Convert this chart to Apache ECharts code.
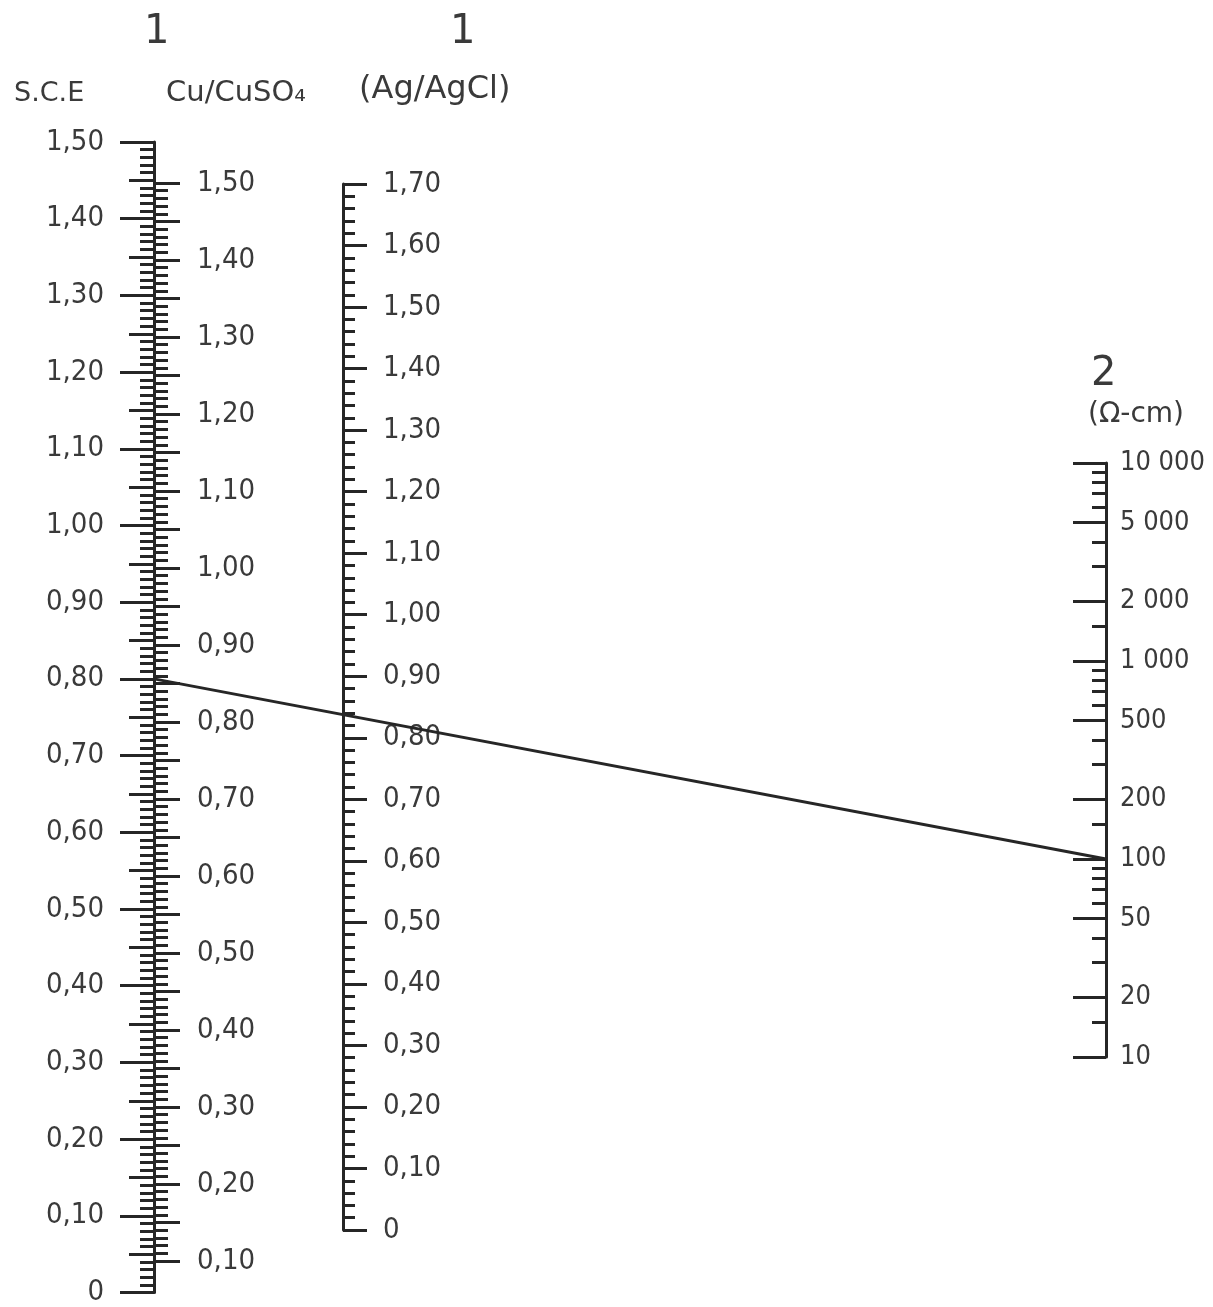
<!DOCTYPE html>
<html>
<head>
<meta charset="UTF-8">
<title>Nomogram</title>
<style>
  html, body { margin: 0; padding: 0; background: #fff; }
  #chart { width: 1213px; height: 1307px; }
</style>
</head>
<body>
<div id="chart"></div>
<script src="https://cdn.jsdelivr.net/npm/echarts@6/dist/echarts.min.js"></script>
<script>
// scales (potential, V)
var sceRange = [0, 1.5];
var cuRange = [0.1, 1.5];
var agRange = [0, 1.7];

// resistivity scale (ohm-cm), log
var resRange = [10, 10000];
var resMajor = [10, 20, 50, 100, 200, 500, 1000, 2000, 5000, 10000];
var resLabels = ['10', '20', '50', '100', '200', '500', '1 000', '2 000', '5 000', '10 000'];
var resMinor = [15, 30, 40, 60, 70, 80, 90,
                150, 300, 400, 600, 700, 800, 900,
                1500, 3000, 4000, 6000, 7000, 8000, 9000];

// example reading drawn across the nomogram
var readingSce = 0.80;
var readingRes = 100;

var ink = '#262626';
var textCol = '#3a3a3a';
var font = 'DejaVu Sans Condensed';
var headFont = 'DejaVu Sans';

function comma(v) {
  return v === 0 ? '0' : v.toFixed(2).replace('.', ',');
}

function head(text, left, top, size) {
  return {
    text: text, left: left, top: top,
    textStyle: { fontSize: size, fontWeight: 'normal', color: textCol, fontFamily: headFont }
  };
}

var chart = echarts.init(document.getElementById('chart'));

var option = {
  animation: false,
  backgroundColor: '#fff',
  textStyle: { fontFamily: font },
  title: [
    head('1', 139, 8, 40),
    head('1', 445, 8, 40),
    head('S.C.E', 9, 75, 27),
    head('Cu/CuSO₄', 161, 74, 29),
    head('(Ag/AgCl)', 354, 69, 32),
    head('2', 1086, 350, 40),
    head('(Ω-cm)', 1083, 396, 28)
  ],
  grid: [
    { left: 154, top: 142, height: 1155, width: 952 },  // S.C.E
    { left: 100, top: 183, height: 1078, width: 54 },   // Cu/CuSO4
    { left: 289, top: 184, height: 1046, width: 54 },   // Ag/AgCl
    { left: 1000, top: 463, height: 594, width: 106 }   // resistivity
  ],
  xAxis: [0, 1, 2, 3].map(function (i) {
    return { gridIndex: i, type: 'value', min: 0, max: 1, show: false };
  }),
  yAxis: [
    // S.C.E main ticks + labels
    {
      gridIndex: 0, type: 'value', position: 'left',
      min: sceRange[0], max: sceRange[1], interval: 0.1,
      axisLine: { show: true, onZero: false, lineStyle: { color: ink, width: 3 } },
      axisTick: { show: true, length: 34, lineStyle: { color: ink, width: 3 } },
      minorTick: { show: true, splitNumber: 10, length: 14, lineStyle: { color: ink, width: 3 } },
      splitLine: { show: false },
      axisLabel: { margin: 50, fontSize: 29, color: textCol, fontFamily: font, formatter: comma }
    },
    // S.C.E half ticks
    {
      gridIndex: 0, type: 'value', position: 'left',
      min: sceRange[0], max: sceRange[1], interval: 0.05,
      axisLine: { show: false, onZero: false },
      axisTick: { show: true, length: 25, lineStyle: { color: ink, width: 3 } },
      splitLine: { show: false },
      axisLabel: { show: false }
    },
    // Cu/CuSO4
    {
      gridIndex: 1, type: 'value', position: 'right',
      min: cuRange[0], max: cuRange[1], interval: 0.05,
      axisLine: { show: true, onZero: false, lineStyle: { color: ink, width: 3 } },
      axisTick: { show: true, length: 26, lineStyle: { color: ink, width: 3 } },
      minorTick: { show: true, splitNumber: 5, length: 14, lineStyle: { color: ink, width: 3 } },
      splitLine: { show: false },
      axisLabel: {
        margin: 43, fontSize: 29, color: textCol, fontFamily: font,
        formatter: function (v) {
          return Math.round(v * 100) % 10 === 0 ? comma(v) : '';
        }
      }
    },
    // Ag/AgCl
    {
      gridIndex: 2, type: 'value', position: 'right',
      min: agRange[0], max: agRange[1], interval: 0.1,
      axisLine: { show: true, onZero: false, lineStyle: { color: ink, width: 3 } },
      axisTick: { show: true, length: 24, lineStyle: { color: ink, width: 3 } },
      minorTick: { show: true, splitNumber: 5, length: 12, lineStyle: { color: ink, width: 3 } },
      splitLine: { show: false },
      axisLabel: { margin: 40, fontSize: 29, color: textCol, fontFamily: font, formatter: comma }
    },
    // resistivity major
    {
      gridIndex: 3, type: 'log', logBase: 10, position: 'right',
      min: resRange[0], max: resRange[1],
      axisLine: { show: true, onZero: false, lineStyle: { color: ink, width: 3 } },
      axisTick: { show: true, inside: true, length: 33, customValues: resMajor, lineStyle: { color: ink, width: 3 } },
      splitLine: { show: false },
      axisLabel: {
        margin: 14, fontSize: 27, color: textCol, fontFamily: font,
        customValues: resMajor,
        formatter: function (v) {
          var i = resMajor.indexOf(Math.round(v));
          return i >= 0 ? resLabels[i] : '';
        }
      }
    },
    // resistivity minor
    {
      gridIndex: 3, type: 'log', logBase: 10, position: 'right',
      min: resRange[0], max: resRange[1],
      axisLine: { show: false, onZero: false },
      axisTick: { show: true, inside: true, length: 14, customValues: resMinor, lineStyle: { color: ink, width: 3 } },
      splitLine: { show: false },
      axisLabel: { show: false }
    }
  ],
  series: []
};

chart.setOption(option);

// the reading line, placed through the axes' own scales
var p1 = chart.convertToPixel({ gridIndex: 0 }, [0, readingSce]);
var p2x = chart.convertToPixel({ xAxisIndex: 0 }, 1);
var p2y = chart.convertToPixel({ yAxisIndex: 4 }, readingRes);

chart.setOption({
  graphic: [{
    type: 'line',
    shape: { x1: p1[0], y1: p1[1], x2: p2x, y2: p2y },
    style: { stroke: ink, lineWidth: 3 },
    z: 10
  }]
});
</script>
</body>
</html>
